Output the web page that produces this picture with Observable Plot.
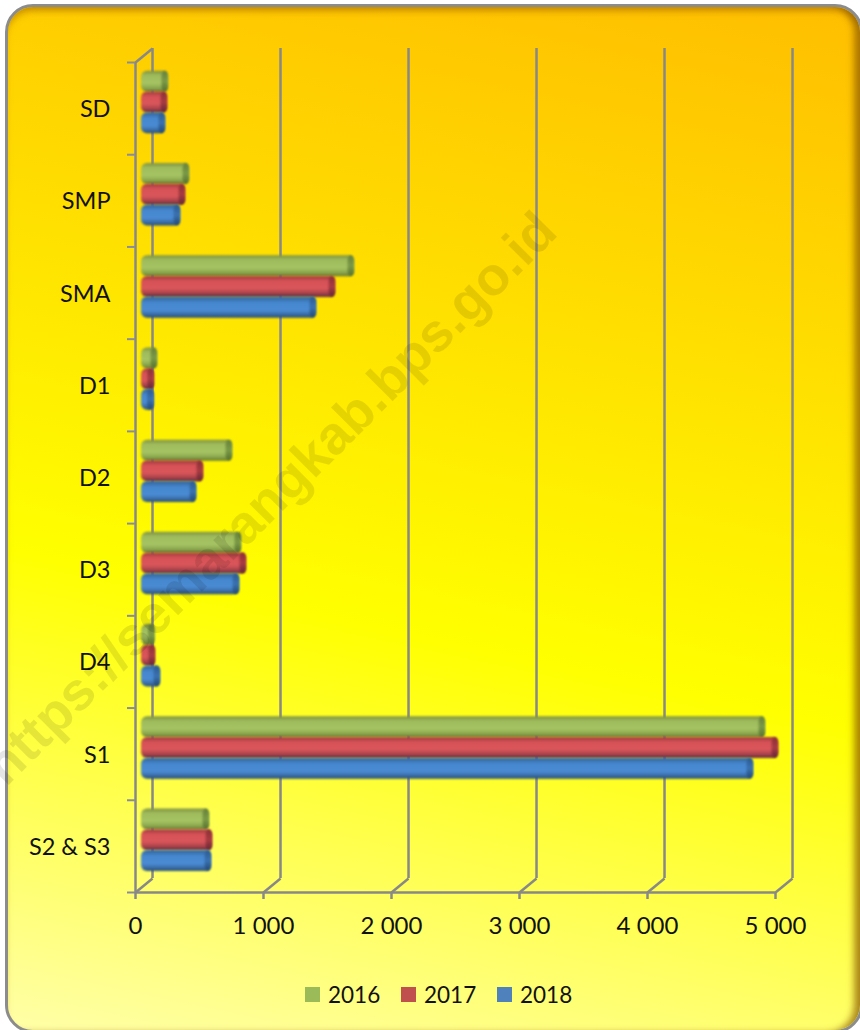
<!DOCTYPE html>
<html>
<head>
<meta charset="utf-8">
<script src="https://cdn.jsdelivr.net/npm/d3@7"></script>
<script src="https://cdn.jsdelivr.net/npm/@observablehq/plot@0.6"></script>
<style>
html,body{margin:0;padding:0;background:#fff;}
#page{position:relative;width:860px;height:1030px;overflow:hidden;font-family:Lato,sans-serif;}
#panel{position:absolute;left:5px;top:4px;width:852px;height:1023px;border:3px solid #8c8c8c;border-radius:28px;
background:linear-gradient(192deg,#ffbe00 0%,#ffd800 25%,#ffff00 60%,#ffffa8 100%);
box-shadow:inset -9px 0 7px -3px rgba(140,90,0,.7),inset 0 7px 7px -3px rgba(170,110,0,.6);}
#chart{position:absolute;left:0;top:0;}
#legend{position:absolute;left:305px;top:979px;display:flex;align-items:center;font-size:22.5px;color:#111;height:30px;}
#legend span.s{display:inline-block;width:15px;height:15px;margin-right:8px;}
#legend span.t{display:inline-block;width:73px;}
</style>
</head>
<body>
<div id="page">
  <div id="panel"></div>
  <div id="chart"></div>
  <div id="legend"></div>
</div>
<script>
const categories = ["SD","SMP","SMA","D1","D2","D3","D4","S1","S2 & S3"];
const years = ["2016","2017","2018"];
const values2016 = [210,375,1664,125,711,781,105,4875,531];
const values2017 = [203,344,1516,100,484,820,109,4977,555];
const values2018 = [187,305,1367,98,430,766,148,4781,547];
const xTicks = [0,1000,2000,3000,4000,5000];
const yearColors = ["#9bbb59","#c0504d","#4f81bd"];
const watermark = "https://semarangkab.bps.go.id";

const series = [values2016,values2017,values2018];
const rows = categories.flatMap((c,i)=>years.map((y,j)=>({category:c,index:i,year:y,slot:j,value:series[j][i]})));

const gridColor = "#888888";
const depthX = 133, depthY = 0.152;
const barTop = d => d.index + 0.095 + d.slot*0.2245;
const barBottom = d => barTop(d) + 0.228;
const capLen = 50;

function gradient(id, stops){
  const g = d3.create("svg:linearGradient").attr("id",id).attr("x1",0).attr("y1",0).attr("x2",0).attr("y2",1);
  stops.forEach(([o,c])=>g.append("stop").attr("offset",o).attr("stop-color",c));
  return g.node();
}
const defsMark = () => {
  const defs = d3.create("svg:defs");
  const add = n => defs.node().appendChild(n);
  add(gradient("g2016",[[0,"#7d9040"],[.22,"#9fbc5c"],[.6,"#a6c463"],[.85,"#87a34a"],[1,"#5f7330"]]));
  add(gradient("g2017",[[0,"#9c3a40"],[.25,"#d85256"],[.6,"#d9565a"],[.85,"#a23f48"],[1,"#5a2a40"]]));
  add(gradient("g2018",[[0,"#326399"],[.3,"#4688d0"],[.65,"#4a8bd4"],[.88,"#37689f"],[1,"#244a72"]]));
  add(gradient("c2016",[[0,"#66803a"],[.5,"#7b9a46"],[1,"#55702e"]]));
  add(gradient("c2017",[[0,"#8a3036"],[.5,"#a83c42"],[1,"#632735"]]));
  add(gradient("c2018",[[0,"#2c5a90"],[.5,"#3a72b0"],[1,"#234872"]]));
  return defs.node();
};

const chart = Plot.plot({
  width:860, height:960,
  marginLeft:135, marginRight:85, marginTop:62, marginBottom:68,
  style:{background:"transparent",fontFamily:"Lato,sans-serif",overflow:"visible"},
  x:{domain:[0,5000],label:null},
  y:{domain:[0,9],reverse:true,label:null},
  marks:[
    defsMark,
    // back wall and floor of the 3D frame
    Plot.ruleX(xTicks,{x:d=>d+depthX,y1:-depthY,y2:9-depthY,stroke:gridColor,strokeWidth:2.5}),
    Plot.link(xTicks,{x1:d=>d,x2:d=>d+depthX,y1:9,y2:9-depthY,stroke:gridColor,strokeWidth:2.5}),
    Plot.link([0],{x1:0,x2:depthX,y1:0,y2:-depthY,stroke:gridColor,strokeWidth:2.5}),
    Plot.ruleX([0],{y1:0,y2:9,stroke:gridColor,strokeWidth:2.5}),
    Plot.ruleY([9],{x1:0,x2:5000,stroke:gridColor,strokeWidth:2.5}),
    Plot.axisY({ticks:d3.range(0,10),tickSize:8,tickFormat:()=>"",stroke:"#8a8c9c",strokeWidth:2,label:null}),
    Plot.axisY({ticks:d3.range(0,9).map(i=>i+0.5),tickSize:0,tickPadding:25,fontSize:23.5,fill:"#111",dy:1,
      tickFormat:d=>categories[Math.floor(d)],label:null}),
    Plot.axisX({ticks:xTicks,tickSize:7,tickPadding:17,fontSize:24,fill:"#111",stroke:gridColor,strokeWidth:2.5,
      tickFormat:d=>d===0?"0":`${d/1000} 000`,label:null}),
    // cylinders
    ...years.flatMap(y=>{
      const data = rows.filter(d=>d.year===y);
      return [
        Plot.rect(data,{x1:0,x2:"value",y1:barTop,y2:barBottom,dx:6,rx:6,fill:`url(#g${y})`,imageFilter:"blur(0.8px)"}),
        Plot.rect(data,{x1:d=>Math.max(0,d.value-capLen),x2:"value",y1:barTop,y2:barBottom,dx:6,rx:5,fill:`url(#c${y})`,imageFilter:"blur(0.8px)"})
      ];
    }),
    // watermark
    Plot.text([watermark],{text:d=>d,x:[1055],y:[4.73],rotate:-45,fontSize:54,fontWeight:"bold",
      fontFamily:"Liberation Sans,Arial,sans-serif",fill:"#000",fillOpacity:.1,textAnchor:"middle",lineAnchor:"middle"})
  ]
});
chart.style.overflow = "visible";
document.getElementById("chart").appendChild(chart);

const legend = d3.select("#legend");
years.forEach((y,i)=>{
  legend.append("span").attr("class","s").style("background",yearColors[i]);
  legend.append("span").attr("class","t").text(y);
});
</script>
</body>
</html>
